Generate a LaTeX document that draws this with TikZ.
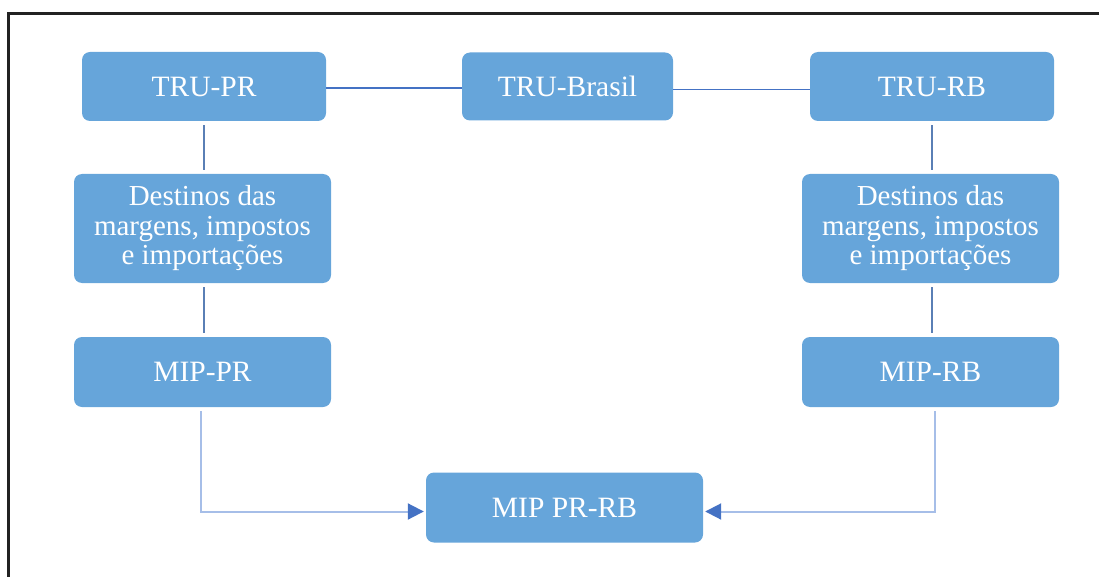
\documentclass[tikz,border=0pt]{standalone}
\usepackage{fontspec}
\setmainfont{Liberation Serif}
\usetikzlibrary{arrows.meta,positioning,calc}

\definecolor{boxblue}{HTML}{66A5DA}
\definecolor{lineblue}{HTML}{4472C4}
\definecolor{stemblue}{HTML}{5A7FB5}
\definecolor{arrowblue}{HTML}{A6BEE8}
\definecolor{framegray}{HTML}{222222}

\tikzset{
  block/.style={rectangle,rounded corners=8pt,fill=boxblue,text=white,inner sep=0pt,
                align=center,font=\fontsize{29.5}{30}\selectfont},
  tablebox/.style={block,minimum width=244pt,minimum height=69pt},
  destbox/.style={block,minimum width=257pt,minimum height=109pt,font=\fontsize{29}{29.5}\selectfont},
  mipbox/.style={block,minimum width=257pt,minimum height=70pt},
  link/.style={draw=lineblue,line width=1.8pt},
  stem/.style={draw=stemblue,line width=1.8pt,shorten <=4pt,shorten >=4pt},
  flow/.style={draw=arrowblue,line width=2pt,shorten <=4pt,shorten >=2pt,
               -{Triangle[length=16pt,width=16pt,color=lineblue]}}
}

\begin{document}
\begin{tikzpicture}[x=1pt,y=-1pt,node distance=142pt]
		\useasboundingbox (0,0) rectangle (1099,577);
		\draw[framegray,line width=2.5pt] (8.5,577) -- (8.5,13.5) -- (1099,13.5);

		% tables of resources and uses
		\node[tablebox]                                   (trupr)  at (204,86.5)                           {TRU-PR};
		\node[tablebox,minimum width=211pt,minimum height=68pt] (trubr) [right of=trupr,node distance=363.5pt] {TRU-Brasil};
		\node[tablebox]                                   (trurb)  [right of=trubr,node distance=364.5pt]  {TRU-RB};

		% regional steps
		\node[destbox]  (destpr)  [below of=trupr,xshift=-1.5pt]           {Destinos das\\margens, impostos\\e importações};
		\node[destbox]  (destrb)  [below of=trurb,xshift=-1.5pt]           {Destinos das\\margens, impostos\\e importações};
		\node[mipbox]   (mippr)   [below of=destpr,node distance=143.5pt]  {MIP-PR};
		\node[mipbox]   (miprb)   [below of=destrb,node distance=143.5pt]  {MIP-RB};
		\node[block,minimum width=277pt,minimum height=70pt] (mipprrb) [below of=trubr,node distance=421pt,xshift=-3pt] {MIP PR-RB};

		\path[link] ([yshift=-1.5pt]trupr.east) edge ([yshift=-1.5pt]trupr.east -| trubr.west)
		            ([yshift=-3pt]trubr.east) edge ([yshift=-3pt]trubr.east -| trurb.west);

		\draw[stem] (trupr.south) -- (trupr.south |- destpr.north);
		\draw[stem] (destpr.south -| trupr) -- (mippr.north -| trupr);
		\draw[stem] (trurb.south) -- (trurb.south |- destrb.north);
		\draw[stem] (destrb.south -| trurb) -- (miprb.north -| trurb);

		\draw[flow] ([xshift=-2pt]mippr.south) |- ([yshift=-4pt]mipprrb.west);
		\draw[flow] ([xshift=4.5pt]miprb.south) |- ([yshift=-4pt]mipprrb.east);
\end{tikzpicture}
\end{document}
